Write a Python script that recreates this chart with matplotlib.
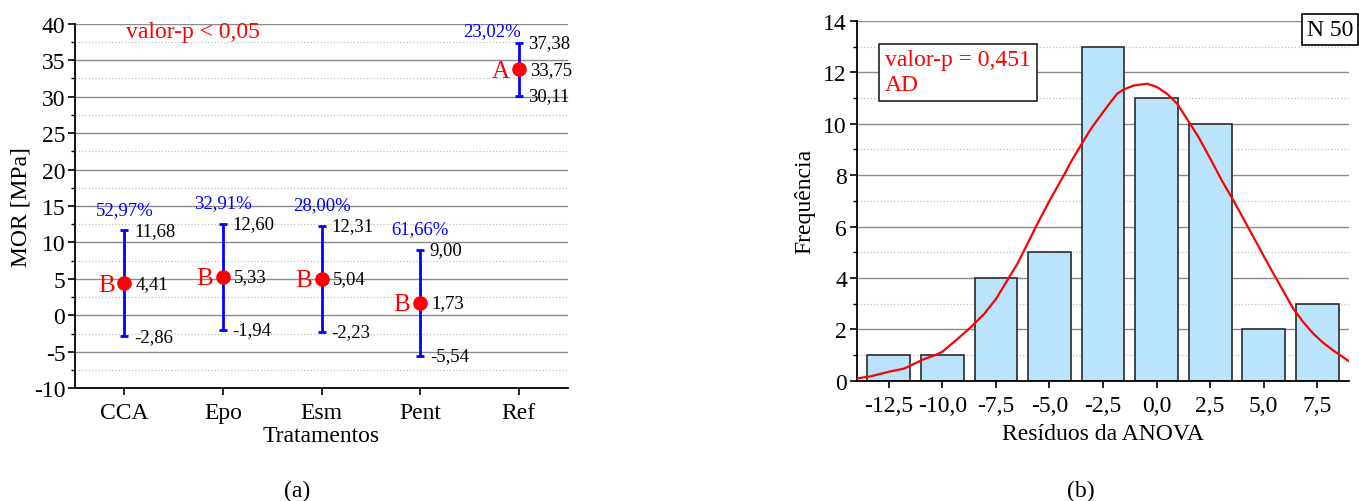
import matplotlib
matplotlib.use("Agg")
import matplotlib.pyplot as plt
from matplotlib.ticker import MultipleLocator, FixedLocator

plt.rcParams['font.family'] = ['Liberation Serif', 'DejaVu Serif']
plt.rcParams['axes.unicode_minus'] = False

# painel (a) - medias de MOR por tratamento
categories = ['CCA', 'Epo', 'Esm', 'Pent', 'Ref']
means = [4.41, 5.33, 5.04, 1.73, 33.75]
upper = [11.68, 12.60, 12.31, 9.00, 37.38]
lower = [-2.86, -1.94, -2.23, -5.54, 30.11]
cv_labels = ['52,97%', '32,91%', '28,00%', '61,66%', '23,02%']
groups = ['B', 'B', 'B', 'B', 'A']
mor_ticks = [-10, -5, 0, 5, 10, 15, 20, 25, 30, 35, 40]
mor_ticklabels = ['-10', '-5', '0', '5', '10', '15', '20', '25', '30', '35', '40']

# painel (b) - histograma dos residuos
bin_centers = [-12.5, -10.0, -7.5, -5.0, -2.5, 0.0, 2.5, 5.0, 7.5]
counts = [1, 1, 4, 5, 13, 11, 10, 2, 3]
res_ticklabels = ['-12,5', '-10,0', '-7,5', '-5,0', '-2,5', '0,0', '2,5', '5,0', '7,5']
freq_ticks = [0, 2, 4, 6, 8, 10, 12, 14]
# curva normal
curve_x = [-13.98, -13.35, -12.5, -11.79, -10.86, -10.32, -10.0, -9.30, -8.68, -8.05,
           -7.5, -6.9, -6.5, -6.19, -5.57, -4.95, -4.32, -4.01, -3.54, -3.07,
           -2.5, -2.15, -1.84, -1.53, -1.07, -0.44, 0.02, 0.49, 0.96, 1.42,
           1.96, 2.51, 3.05, 3.59, 4.06, 4.53, 4.99, 5.46, 5.93, 6.39,
           6.86, 7.33, 7.79, 8.26, 9.0]
curve_y = [0.09, 0.17, 0.35, 0.47, 0.84, 1.0, 1.13, 1.62, 2.08, 2.6,
           3.18, 4.0, 4.55, 5.06, 6.1, 7.08, 8.01, 8.5, 9.16, 9.8,
           10.45, 10.84, 11.17, 11.34, 11.49, 11.56, 11.43, 11.17, 10.78, 10.19,
           9.48, 8.64, 7.79, 7.01, 6.30, 5.58, 4.87, 4.16, 3.47, 2.79,
           2.27, 1.82, 1.47, 1.17, 0.75]

FS = 17
fig = plt.figure(figsize=(13.59, 5.02), dpi=100)
ax1 = fig.add_axes([0.0552, 0.2245, 0.3628, 0.7263])
ax2 = fig.add_axes([0.6304, 0.2396, 0.3625, 0.7165])


def style_axes(ax):
    for side in ['top', 'right']:
        ax.spines[side].set_visible(False)
    for side in ['left', 'bottom']:
        ax.spines[side].set_linewidth(1.3)
    ax.set_axisbelow(True)
    ax.grid(which='major', axis='y', color='#8a8a8a', linewidth=1.0)
    ax.grid(which='minor', axis='y', color='#c0c0c0', linewidth=0.9, linestyle=':')
    ax.tick_params(which='major', direction='out', length=5, width=1.2, labelsize=FS, pad=2)
    ax.tick_params(which='minor', direction='out', length=3, width=1.0)
    ax.tick_params(axis='x', pad=5)


# --- (a) ---
xpos = list(range(1, len(categories) + 1))
style_axes(ax1)
ax1.set_xlim(0.5, 5.5)
ax1.set_ylim(-10, 40)
ax1.yaxis.set_major_locator(FixedLocator(mor_ticks))
ax1.set_yticklabels(mor_ticklabels)
ax1.yaxis.set_minor_locator(MultipleLocator(2.5))
ax1.set_xticks(xpos)
ax1.set_xticklabels(categories)

err_lo = [m - l for m, l in zip(means, lower)]
err_hi = [u - m for m, u in zip(means, upper)]
ax1.errorbar(xpos, means, yerr=[err_lo, err_hi], fmt='none', ecolor='blue',
             elinewidth=2, capsize=3, capthick=2, zorder=3)
ax1.plot(xpos, means, 'o', color='red', markersize=9.5, zorder=4)

for i, x in enumerate(xpos):
    ax1.annotate(f"{upper[i]:.2f}".replace('.', ','), (x, upper[i]), xytext=(7, 0),
                 textcoords='offset points', ha='left', va='center', fontsize=13.5)
    ax1.annotate(f"{means[i]:.2f}".replace('.', ','), (x, means[i]), xytext=(8, 0),
                 textcoords='offset points', ha='left', va='center', fontsize=13.5)
    ax1.annotate(f"{lower[i]:.2f}".replace('.', ','), (x, lower[i]), xytext=(7, 0),
                 textcoords='offset points', ha='left', va='center', fontsize=13.5)
    ax1.annotate(groups[i], (x, means[i]), xytext=(-13, -1),
                 textcoords='offset points', ha='center', va='center', fontsize=18,
                 color='red')
    if i == len(xpos) - 1:
        off = (-19, 9)
    else:
        off = (0, 15)
    ax1.annotate(cv_labels[i], (x, upper[i]), xytext=off, textcoords='offset points',
                 ha='center', va='center', fontsize=13.5, color='blue')

ax1.text(0.239, 0.978, 'valor-p < 0,05', transform=ax1.transAxes, ha='center',
         va='center', fontsize=FS, color='red')
ax1.set_xlabel('Tratamentos', fontsize=FS, labelpad=1)
ax1.set_ylabel('MOR [MPa]', fontsize=FS, labelpad=2)

# --- (b) ---
style_axes(ax2)
ax2.set_xlim(-14, 9)
ax2.set_ylim(0, 14)
ax2.yaxis.set_major_locator(FixedLocator(freq_ticks))
ax2.yaxis.set_minor_locator(MultipleLocator(1))
ax2.set_xticks(bin_centers)
ax2.set_xticklabels(res_ticklabels)
ax2.bar(bin_centers, counts, width=2.0, color='#b9e4fb', edgecolor='#2b2b2b',
        linewidth=1.2, zorder=2)
ax2.plot(curve_x, curve_y, color='red', linewidth=1.6, zorder=3)

ax2.text(0.961, 0.976, 'N 50', transform=ax2.transAxes, ha='center', va='center',
         fontsize=FS, clip_on=False,
         bbox=dict(boxstyle='square,pad=0.2', facecolor='white', edgecolor='black',
                   linewidth=1.2))
ax2.text(0.0575, 0.857, 'valor-p = 0,451\nAD', transform=ax2.transAxes, ha='left',
         va='center', fontsize=FS, color='red', linespacing=1.25,
         bbox=dict(boxstyle='square,pad=0.25', facecolor='white', edgecolor='#222222',
                   linewidth=1.2))
ax2.set_xlabel('Resíduos da ANOVA', fontsize=FS, labelpad=5)
ax2.set_ylabel('Frequência', fontsize=FS, labelpad=6)

fig.text(0.2185, 0.022, '(a)', ha='center', va='center', fontsize=FS)
fig.text(0.795, 0.022, '(b)', ha='center', va='center', fontsize=FS)

fig.savefig('out.png', dpi=100)
